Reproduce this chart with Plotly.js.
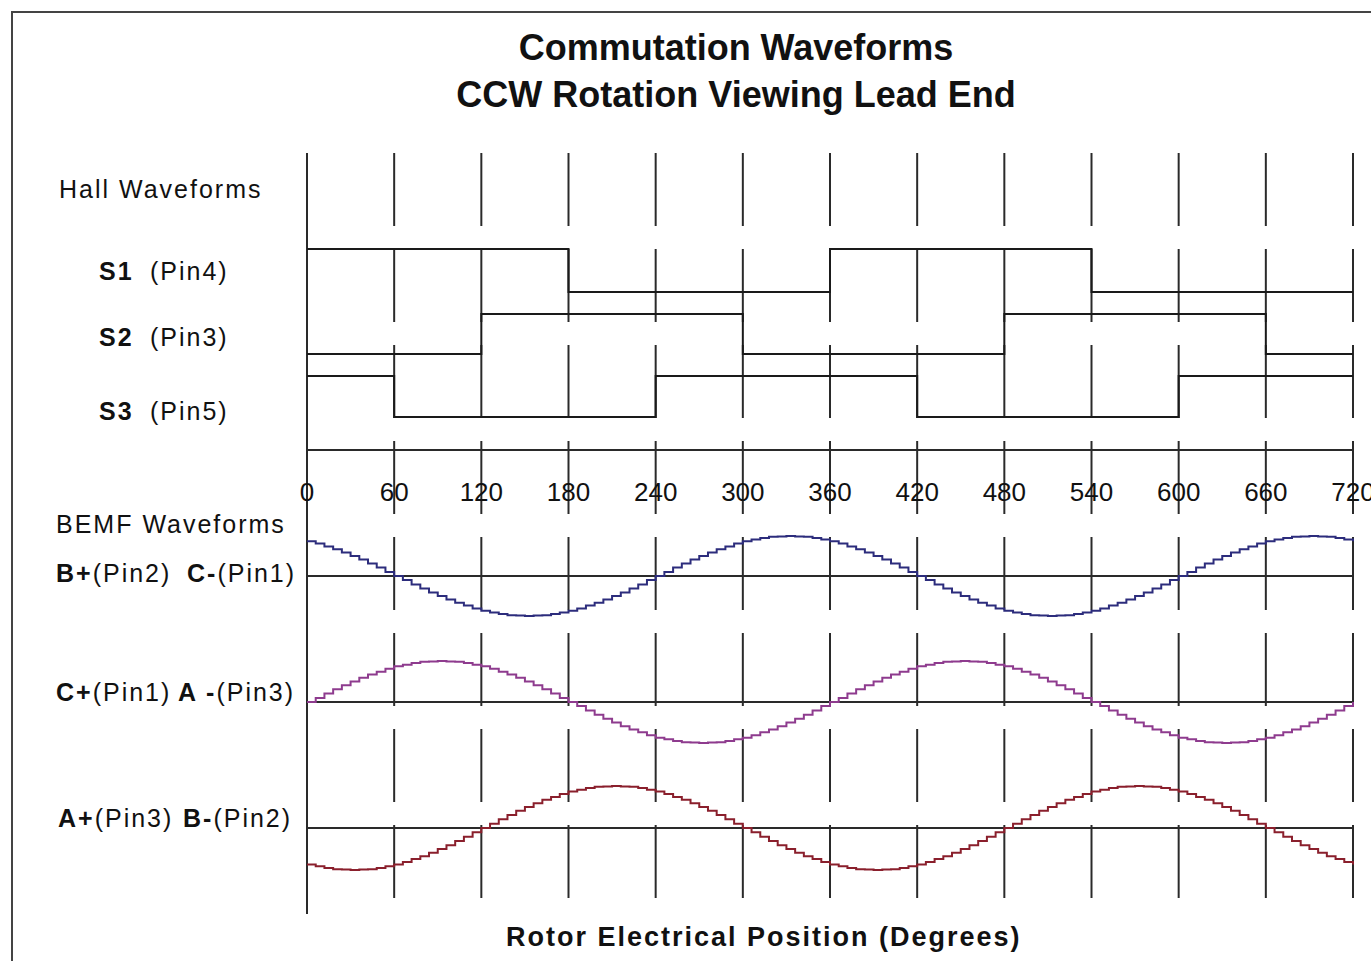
<!DOCTYPE html>
<html>
<head>
<meta charset="utf-8">
<script src="https://cdn.plot.ly/plotly-3.0.1.min.js"></script>
<style>
html,body{margin:0;padding:0;background:#fff;}
#chart{width:1371px;height:961px;}
.annotation-text{letter-spacing:2px;}
</style>
</head>
<body>
<div id="chart"></div>
<script>
// ---------------- DATA ----------------
const tickDegrees = [0, 60, 120, 180, 240, 300, 360, 420, 480, 540, 600, 660, 720];
const tickLabels = ["0", "60", "120", "180", "240", "300", "360", "420", "480", "540", "600", "660", "720"];

// Hall sensor states (1 = high, 0 = low) at each 60-degree edge
const hallEdges = [0, 60, 120, 180, 240, 300, 360, 420, 480, 540, 600, 660, 720];
const hallS1 = [1, 1, 1, 0, 0, 0, 1, 1, 1, 0, 0, 0, 0];
const hallS2 = [0, 0, 1, 1, 1, 0, 0, 0, 1, 1, 1, 0, 0];
const hallS3 = [1, 0, 0, 0, 1, 1, 1, 0, 0, 0, 1, 1, 1];

// BEMF waveforms (normalised), sampled every 6 degrees
const bemfDegrees = [0,6,12,18,24,30,36,42,48,54,60,66,72,78,84,90,96,102,108,114,120,126,132,138,144,150,156,162,168,174,180,186,192,198,204,210,216,222,228,234,240,246,252,258,264,270,276,282,288,294,300,306,312,318,324,330,336,342,348,354,360,366,372,378,384,390,396,402,408,414,420,426,432,438,444,450,456,462,468,474,480,486,492,498,504,510,516,522,528,534,540,546,552,558,564,570,576,582,588,594,600,606,612,618,624,630,636,642,648,654,660,666,672,678,684,690,696,702,708,714,720];

const bemfBplus = [.87,.81,.74,.67,.59,.50,.41,.31,.21,.10,0,-.10,-.21,-.31,-.41,-.50,-.59,-.67,-.74,-.81,-.87,-.91,-.95,-.98,-.99,-1,-.99,-.98,-.95,-.91,-.87,-.81,-.74,-.67,-.59,-.50,-.41,-.31,-.21,-.10,0,.10,.21,.31,.41,.50,.59,.67,.74,.81,.87,.91,.95,.98,.99,1,.99,.98,.95,.91,
.87,.81,.74,.67,.59,.50,.41,.31,.21,.10,0,-.10,-.21,-.31,-.41,-.50,-.59,-.67,-.74,-.81,-.87,-.91,-.95,-.98,-.99,-1,-.99,-.98,-.95,-.91,-.87,-.81,-.74,-.67,-.59,-.50,-.41,-.31,-.21,-.10,0,.10,.21,.31,.41,.50,.59,.67,.74,.81,.87,.91,.95,.98,.99,1,.99,.98,.95,.91,.87];

const bemfCplus = [0,.10,.21,.31,.41,.50,.59,.67,.74,.81,.87,.91,.95,.98,.99,1,.99,.98,.95,.91,.87,.81,.74,.67,.59,.50,.41,.31,.21,.10,0,-.10,-.21,-.31,-.41,-.50,-.59,-.67,-.74,-.81,-.87,-.91,-.95,-.98,-.99,-1,-.99,-.98,-.95,-.91,-.87,-.81,-.74,-.67,-.59,-.50,-.41,-.31,-.21,-.10,
0,.10,.21,.31,.41,.50,.59,.67,.74,.81,.87,.91,.95,.98,.99,1,.99,.98,.95,.91,.87,.81,.74,.67,.59,.50,.41,.31,.21,.10,0,-.10,-.21,-.31,-.41,-.50,-.59,-.67,-.74,-.81,-.87,-.91,-.95,-.98,-.99,-1,-.99,-.98,-.95,-.91,-.87,-.81,-.74,-.67,-.59,-.50,-.41,-.31,-.21,-.10,0];

const bemfAplus = [-.87,-.91,-.95,-.98,-.99,-1,-.99,-.98,-.95,-.91,-.87,-.81,-.74,-.67,-.59,-.50,-.41,-.31,-.21,-.10,0,.10,.21,.31,.41,.50,.59,.67,.74,.81,.87,.91,.95,.98,.99,1,.99,.98,.95,.91,.87,.81,.74,.67,.59,.50,.41,.31,.21,.10,0,-.10,-.21,-.31,-.41,-.50,-.59,-.67,-.74,-.81,
-.87,-.91,-.95,-.98,-.99,-1,-.99,-.98,-.95,-.91,-.87,-.81,-.74,-.67,-.59,-.50,-.41,-.31,-.21,-.10,0,.10,.21,.31,.41,.50,.59,.67,.74,.81,.87,.91,.95,.98,.99,1,.99,.98,.95,.91,.87,.81,.74,.67,.59,.50,.41,.31,.21,.10,0,-.10,-.21,-.31,-.41,-.50,-.59,-.67,-.74,-.81,-.87];

// ---------------- LAYOUT CONSTANTS ----------------
const W = 1371, H = 961;
const X0PX = 307, XENDPX = 1353;
const pxPerDeg = (XENDPX - X0PX) / 720;
const FONT = "Liberation Sans, Arial, Helvetica, sans-serif";
const INK = "#111111";
const GRID = "#2a2a2a";

// lane geometry: pixel row of value 0 and pixels per unit
const lanes = {
  y2: {zero: 292, unit: 43},   // S1
  y3: {zero: 354, unit: 40},   // S2
  y4: {zero: 417, unit: 41},   // S3
  y5: {zero: 576, unit: 40},   // B+
  y6: {zero: 702, unit: 41},   // C+
  y7: {zero: 828, unit: 42}    // A+
};
function laneRange(l) { return [(l.zero - H) / l.unit, l.zero / l.unit]; }

const bandTop0 = 153, bandStep = 96, bandLen = 73, bandCount = 8;
const axisLinePx = 450;
const zeroLineBottom = 914;

// ---------------- TRACES ----------------
const hallLine = {color: "#1a1a1a", width: 2, shape: "hv"};
const traces = [
  {x: hallEdges, y: hallS1, yaxis: "y2", mode: "lines", line: hallLine, hoverinfo: "skip"},
  {x: hallEdges, y: hallS2, yaxis: "y3", mode: "lines", line: hallLine, hoverinfo: "skip"},
  {x: hallEdges, y: hallS3, yaxis: "y4", mode: "lines", line: hallLine, hoverinfo: "skip"},
  {x: bemfDegrees, y: bemfBplus, yaxis: "y5", mode: "lines", line: {color: "#2c2c7c", width: 2, shape: "hv"}, hoverinfo: "skip"},
  {x: bemfDegrees, y: bemfCplus, yaxis: "y6", mode: "lines", line: {color: "#8e3b8e", width: 2, shape: "hv"}, hoverinfo: "skip"},
  {x: bemfDegrees, y: bemfAplus, yaxis: "y7", mode: "lines", line: {color: "#8a1f2c", width: 2, shape: "hv"}, hoverinfo: "skip"}
];

// ---------------- SHAPES ----------------
const shapes = [];
// outer frame
shapes.push({type: "rect", xref: "paper", yref: "paper", x0: 12 / W, x1: 1.02, y0: -0.02, y1: 1 - 12 / H,
  line: {color: "#444", width: 2}, layer: "below"});
// vertical line at 0
shapes.push({type: "line", xref: "x", yref: "y", x0: tickDegrees[0], x1: tickDegrees[0], y0: bandTop0, y1: zeroLineBottom,
  line: {color: GRID, width: 2}, layer: "below"});
// banded vertical grid segments at the other ticks
tickDegrees.slice(1).forEach(d => {
  for (let k = 0; k < bandCount; k++) {
    const t = bandTop0 + k * bandStep;
    shapes.push({type: "line", xref: "x", yref: "y", x0: d, x1: d, y0: t, y1: t + bandLen,
      line: {color: GRID, width: 2}, layer: "below"});
  }
});
// degree axis line
shapes.push({type: "line", xref: "x", yref: "y", x0: tickDegrees[0], x1: tickDegrees[tickDegrees.length - 1],
  y0: axisLinePx, y1: axisLinePx, line: {color: GRID, width: 2}, layer: "below"});
// BEMF zero lines
["y5", "y6", "y7"].forEach(ax => {
  shapes.push({type: "line", xref: "x", yref: ax, x0: tickDegrees[0], x1: tickDegrees[tickDegrees.length - 1],
    y0: 0, y1: 0, line: {color: GRID, width: 2}, layer: "below"});
});

// ---------------- ANNOTATIONS ----------------
function ann(text, px, py, xanchor, size) {
  return {text: text, xref: "paper", yref: "paper", x: px / W, y: 1 - py / H,
    xanchor: xanchor || "left", yanchor: "middle", showarrow: false,
    font: {family: FONT, size: size || 25, color: INK}};
}
const annotations = [
  ann("Hall Waveforms", 57, 189, "left", 25),
  ann("<b>S1</b>", 97, 271, "left", 25), ann("(Pin4)", 148, 271, "left", 25),
  ann("<b>S2</b>", 97, 337, "left", 25), ann("(Pin3)", 148, 337, "left", 25),
  ann("<b>S3</b>", 97, 411, "left", 25), ann("(Pin5)", 148, 411, "left", 25),
  ann("BEMF Waveforms", 54, 524, "left", 25),
  ann("<b>B+</b>(Pin2)", 54, 573, "left", 25), ann("<b>C-</b>(Pin1)", 185, 573, "left", 25),
  ann("<b>C+</b>(Pin1)", 54, 692, "left", 25), ann("<b>A -</b>(Pin3)", 176, 692, "left", 25),
  ann("<b>A+</b>(Pin3)", 56, 818, "left", 25), ann("<b>B-</b>(Pin2)", 181, 818, "left", 25),
  ann("<b>Rotor Electrical Position (Degrees)</b>", 764, 937, "center", 27)
];

// ---------------- LAYOUT ----------------
const yaxisBase = {visible: false, showgrid: false, zeroline: false, fixedrange: true, domain: [0, 1]};
const layout = {
  width: W, height: H,
  margin: {l: 0, r: 0, t: 0, b: 0, pad: 0},
  paper_bgcolor: "#ffffff", plot_bgcolor: "#ffffff",
  showlegend: false,
  title: {text: "<b>Commutation Waveforms<br>CCW Rotation Viewing Lead End</b>",
    x: 736 / W, xanchor: "center", xref: "paper", y: 1 - 60 / H, yanchor: "middle", yref: "container",
    font: {family: FONT, size: 36, color: INK}},
  xaxis: {range: [-X0PX / pxPerDeg, 720 + (W - XENDPX) / pxPerDeg], domain: [0, 1],
    showgrid: false, zeroline: false, showline: false, ticks: "",
    tickmode: "array", tickvals: tickDegrees, ticktext: tickLabels,
    tickfont: {family: FONT, size: 26, color: INK},
    anchor: "free", position: 1 - axisLinePx / H, side: "bottom",
    ticklabelstandoff: 24, ticklabeloverflow: "allow", automargin: false, fixedrange: true},
  yaxis: Object.assign({}, yaxisBase, {range: [H, 0]}),
  shapes: shapes,
  annotations: annotations
};
Object.keys(lanes).forEach(k => {
  const name = "yaxis" + k.slice(1);
  layout[name] = Object.assign({}, yaxisBase, {overlaying: "y", range: laneRange(lanes[k])});
});

Plotly.newPlot("chart", traces, layout, {displayModeBar: false, staticPlot: true});
</script>
</body>
</html>
